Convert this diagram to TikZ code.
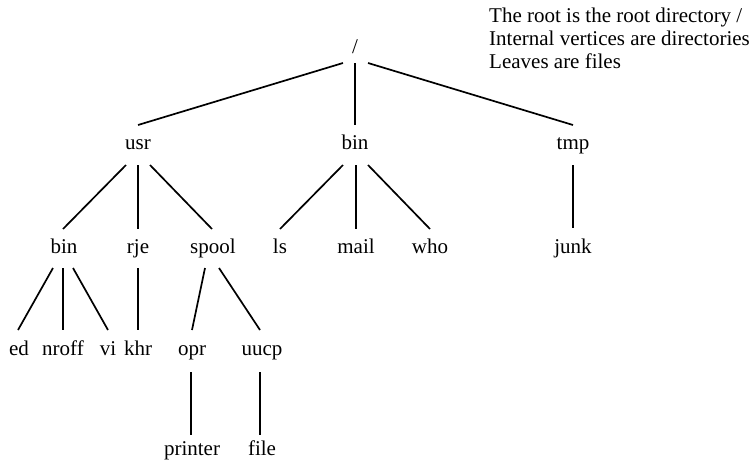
\documentclass[tikz,border=0pt]{standalone}
\usepackage{fontspec}
\setmainfont{Liberation Serif}
\usetikzlibrary{calc}
\begin{document}
\begin{tikzpicture}[x=1pt,y=-1pt,
  lbl/.style={inner sep=0pt,anchor=base,font=\fontsize{21}{23}\selectfont},
  note/.style={inner sep=0pt,anchor=base west,font=\fontsize{21}{23}\selectfont},
  edge/.style={line width=1.7pt}]
\useasboundingbox (0,0) rectangle (753,461);
% notes
\node[note] (n1) at (489,22) {The root is the root directory /};
\node[note] (n2) at (489,45) {Internal vertices are directories};
\node[note] (n3) at (489,68) {Leaves are files};
% nodes
\node[lbl] (root) at (355,53) {/};
\node[lbl] (usr) at (138,149) {usr};
\node[lbl] (bin) at (355,149) {bin};
\node[lbl] (tmp) at (573,149) {tmp};
\node[lbl] (ubin) at (64,253) {bin};
\node[lbl] (rje) at (138,253) {rje};
\node[lbl] (spool) at (213,253) {spool};
\node[lbl] (ls) at (280,253) {ls};
\node[lbl] (mail) at (356,253) {mail};
\node[lbl] (who) at (430,253) {who};
\node[lbl] (junk) at (573,253) {junk};
\node[lbl] (ed) at (19,355) {ed};
\node[lbl] (nroff) at (63,355) {nroff};
\node[lbl] (vi) at (108,355) {vi};
\node[lbl] (khr) at (138,355) {khr};
\node[lbl] (opr) at (192,355) {opr};
\node[lbl] (uucp) at (262,355) {uucp};
\node[lbl] (printer) at (192,455) {printer};
\node[lbl] (file) at (262,455) {file};
% edges
\draw[edge] ($(root.base)+(-12,10)$) -- ($(usr.base)+(0,-24)$);
\draw[edge] ($(root.base)+(0,10)$) -- ($(bin.base)+(0,-24)$);
\draw[edge] ($(root.base)+(13,10)$) -- ($(tmp.base)+(0,-24)$);
\draw[edge] ($(usr.base)+(-12,16)$) -- ($(ubin.base)+(-1,-24)$);
\draw[edge] ($(usr.base)+(0,16)$) -- ($(rje.base)+(0,-24)$);
\draw[edge] ($(usr.base)+(12,16)$) -- ($(spool.base)+(-1,-24)$);
\draw[edge] ($(bin.base)+(-12,16)$) -- ($(ls.base)+(0,-24)$);
\draw[edge] ($(bin.base)+(1,16)$) -- ($(mail.base)+(0,-24)$);
\draw[edge] ($(bin.base)+(13,16)$) -- ($(who.base)+(0,-24)$);
\draw[edge] ($(tmp.base)+(0,16)$) -- ($(junk.base)+(0,-25)$);
\draw[edge] ($(ubin.base)+(-11,15)$) -- ($(ed.base)+(-1,-25)$);
\draw[edge] ($(ubin.base)+(-1,15)$) -- ($(nroff.base)+(0,-25)$);
\draw[edge] ($(ubin.base)+(9,15)$) -- ($(vi.base)+(0,-25)$);
\draw[edge] ($(rje.base)+(0,15)$) -- ($(khr.base)+(0,-25)$);
\draw[edge] ($(spool.base)+(-8,15)$) -- ($(opr.base)+(0,-25)$);
\draw[edge] ($(spool.base)+(6,15)$) -- ($(uucp.base)+(-2,-25)$);
\draw[edge] ($(opr.base)+(-1,17)$) -- ($(printer.base)+(-1,-20)$);
\draw[edge] ($(uucp.base)+(-2,17)$) -- ($(file.base)+(-2,-20)$);
\end{tikzpicture}
\end{document}
